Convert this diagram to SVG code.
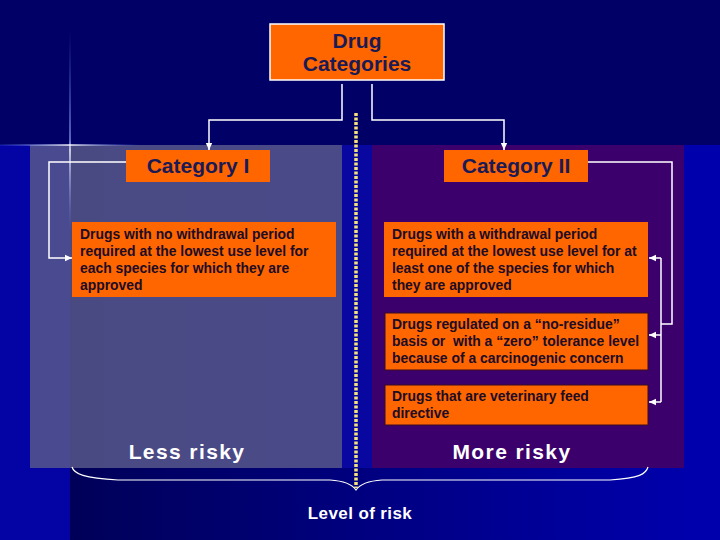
<svg xmlns="http://www.w3.org/2000/svg" width="720" height="540" viewBox="0 0 720 540">
<style>
.box{fill:#ff6600}
.head{font-family:"Liberation Sans",Arial,sans-serif;font-weight:bold;font-size:21px;fill:#1a1a55;text-anchor:middle}
.desc{font-family:"Liberation Sans",Arial,sans-serif;font-weight:bold;font-size:13.9px;fill:#200c24}
.risk{font-family:"Liberation Sans",Arial,sans-serif;font-weight:bold;font-size:21px;fill:#ffffff;text-anchor:middle;letter-spacing:1.4px}
.conn{fill:none;stroke:#ffffff;stroke-width:1.5}
</style>
<defs>
<marker id="arr" markerUnits="userSpaceOnUse" markerWidth="8" markerHeight="8" refX="7" refY="4" orient="auto">
<path d="M0,0.8 L7,4 L0,7.2 Z" fill="#ffffff"/>
</marker>
<linearGradient id="bottomGrad" x1="0" y1="0" x2="1" y2="0">
<stop offset="0" stop-color="#000058"/>
<stop offset="0.55" stop-color="#000088"/>
<stop offset="1" stop-color="#0000b0"/>
</linearGradient>
<linearGradient id="vFlare" x1="0" y1="0" x2="0" y2="1">
<stop offset="0" stop-color="#6080ff" stop-opacity="0"/>
<stop offset="0.55" stop-color="#a0b8ff" stop-opacity="0.8"/>
<stop offset="0.6" stop-color="#ffffff" stop-opacity="1"/>
<stop offset="1" stop-color="#6080ff" stop-opacity="0"/>
</linearGradient>
<linearGradient id="hFlare" x1="0" y1="0" x2="1" y2="0">
<stop offset="0" stop-color="#6080ff" stop-opacity="0.2"/>
<stop offset="0.5" stop-color="#ffffff" stop-opacity="1"/>
<stop offset="1" stop-color="#6080ff" stop-opacity="0"/>
</linearGradient>
</defs>

<g id="background">
<rect x="0" y="0" width="720" height="540" fill="#000066"/>
<rect x="0" y="145" width="70" height="395" fill="#0404a4"/>
<rect x="70" y="145" width="650" height="395" fill="url(#bottomGrad)"/>
<rect x="342" y="145" width="30" height="323" fill="#0808a0"/>
<rect x="684" y="145" width="36" height="395" fill="#0000ac"/>
<rect x="30" y="145" width="312" height="323" fill="#5a5a8c" opacity="0.82"/>
<rect x="372" y="145" width="312" height="323" fill="#3c006c"/>
<rect x="69.3" y="30" width="1.4" height="200" fill="url(#vFlare)"/>
<rect x="0" y="144.3" width="140" height="1.4" fill="url(#hFlare)"/>
</g>

<g id="risk-axis">
<line x1="356" y1="113" x2="356" y2="488" stroke="#f4e27c" stroke-width="3.5" stroke-dasharray="3 1.5"/>
<path d="M72,467 C74,474 84,478 118,480 L330,480 C345,481 352,484 356,490 C360,484 367,481 382,480 L610,480 C640,478 646,474 648,467" fill="none" stroke="#ffffff" stroke-width="1.2"/>
</g>

<g id="connectors">
<path class="conn" d="M342,84 V120 H209 V150" marker-end="url(#arr)"/>
<path class="conn" d="M372,84 V120 H504 V150" marker-end="url(#arr)"/>
<path class="conn" d="M126,162 H49 V258 H72" marker-end="url(#arr)"/>
<path class="conn" d="M588,162 H672 V324 H661"/>
<path class="conn" d="M661,258 V402"/>
<path class="conn" d="M661,258 H649" marker-end="url(#arr)"/>
<path class="conn" d="M661,335 H649" marker-end="url(#arr)"/>
<path class="conn" d="M661,402 H649" marker-end="url(#arr)"/>
</g>

<g id="drug-categories">
<rect class="box" x="270" y="24" width="174" height="56" stroke="#ffffff" stroke-width="1.5"/>
<text class="head" x="357" y="48">Drug</text>
<text class="head" x="357" y="71">Categories</text>
</g>

<g id="category-1">
<rect class="box" x="126" y="150" width="144" height="32"/>
<text class="head" x="198" y="173">Category I</text>
</g>

<g id="category-2">
<rect class="box" x="444" y="150" width="144" height="32"/>
<text class="head" x="516" y="173">Category II</text>
</g>

<g id="cat1-desc">
<rect class="box" x="72" y="222" width="264" height="75"/>
<text class="desc" x="80" y="239">Drugs with no withdrawal period</text>
<text class="desc" x="80" y="256">required at the lowest use level for</text>
<text class="desc" x="80" y="273">each species for which they are</text>
<text class="desc" x="80" y="290">approved</text>
</g>

<g id="cat2-desc1">
<rect class="box" x="384" y="222" width="264" height="75"/>
<text class="desc" x="392" y="239">Drugs with a withdrawal period</text>
<text class="desc" x="392" y="256">required at the lowest use level for at</text>
<text class="desc" x="392" y="273">least one of the species for which</text>
<text class="desc" x="392" y="290">they are approved</text>
</g>

<g id="cat2-desc2">
<rect class="box" x="385" y="313" width="263" height="57" stroke="#3a0a20" stroke-width="1"/>
<text class="desc" x="392" y="329">Drugs regulated on a “no-residue”</text>
<text class="desc" x="392" y="346" xml:space="preserve">basis or  with a “zero” tolerance level</text>
<text class="desc" x="392" y="363">because of a carcinogenic concern</text>
</g>

<g id="cat2-desc3">
<rect class="box" x="385" y="385" width="263" height="40" stroke="#3a0a20" stroke-width="1"/>
<text class="desc" x="392" y="401">Drugs that are veterinary feed</text>
<text class="desc" x="392" y="418">directive</text>
</g>

<g id="labels">
<text class="risk" x="187" y="459">Less risky</text>
<text class="risk" x="512" y="459">More risky</text>
<text class="risk" x="360" y="519" style="font-size:17px;letter-spacing:0.4px">Level of risk</text>
</g>
</svg>
